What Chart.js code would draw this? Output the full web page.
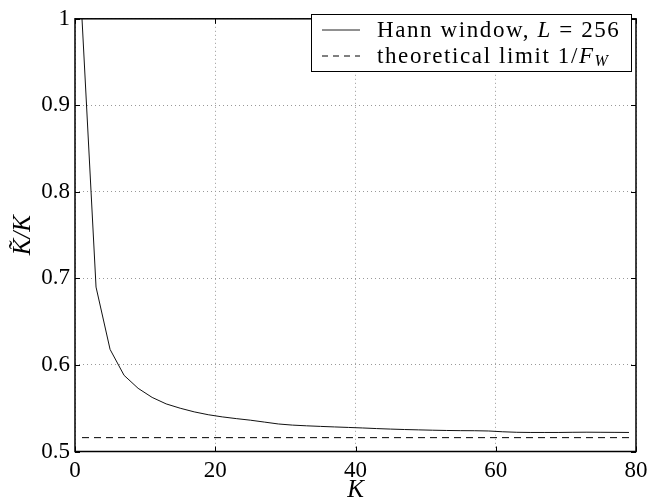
<!DOCTYPE html>
<html>
<head>
<meta charset="utf-8">
<script src="https://cdn.jsdelivr.net/npm/chart.js@4/dist/chart.umd.min.js"></script>
<style>
html,body{margin:0;padding:0;background:#fff;}
#wrap{width:672px;height:502px;}
</style>
</head>
<body>
<div id="wrap"><canvas id="c" width="672" height="502"></canvas></div>
<script>
// ---- data ----
const hannK = [1,3,5,7,9,11,13,15,17,19,21,23,25,27,29,31,33,35,37,39,41,43,45,47,49,51,53,55,57,59,61,63,65,67,69,71,73,75,77,79];
const hannVals = [1.000,0.690,0.618,0.588,0.573,0.5625,0.555,0.550,0.5458,0.5425,0.540,0.538,0.5362,0.534,0.5318,0.5305,0.5297,0.529,0.5284,0.5278,0.5272,0.5265,0.5259,0.5254,0.525,0.5246,0.5243,0.5241,0.524,0.5237,0.5228,0.5222,0.522,0.522,0.522,0.5222,0.5223,0.5222,0.5221,0.522];
const limitK = [1,79];
const limitVals = [0.516,0.516];
const xTicks = [0,20,40,60,80];
const yTicks = [0.5,0.6,0.7,0.8,0.9,1.0];
const yTickLabels = ['0.5','0.6','0.7','0.8','0.9','1'];

const SERIF = '"Liberation Serif", "DejaVu Serif", serif';

const framePlugin = {
  id: 'frame',
  afterDatasetsDraw(chart) {
    const ctx = chart.ctx, a = chart.chartArea;
    const xs = chart.scales.x, ys = chart.scales.y;
    ctx.save();
    ctx.strokeStyle = '#000';
    ctx.lineWidth = 1;
    ctx.beginPath();
    const tl = 5;
    xTicks.forEach(v => {
      const px = Math.round(xs.getPixelForValue(v)) + 0.5;
      ctx.moveTo(px, a.bottom); ctx.lineTo(px, a.bottom - tl);
      ctx.moveTo(px, a.top); ctx.lineTo(px, a.top + tl);
    });
    yTicks.forEach(v => {
      const py = Math.round(ys.getPixelForValue(v)) + 0.5;
      ctx.moveTo(a.left, py); ctx.lineTo(a.left + tl, py);
      ctx.moveTo(a.right, py); ctx.lineTo(a.right - tl, py);
    });
    ctx.stroke();
    ctx.lineWidth = 1.5;
    ctx.strokeRect(a.left, a.top, a.right - a.left, a.bottom - a.top);

    // legend
    const bx = 311, by = 14, bw = a.right - 5 - bx, bh = 57;
    ctx.fillStyle = '#fff';
    ctx.fillRect(bx, by, bw, bh);
    ctx.lineWidth = 1;
    ctx.strokeStyle = '#000';
    ctx.strokeRect(bx + 0.5, by + 0.5, bw, bh);
    const rows = [by + 17, by + 43];
    // samples
    ctx.beginPath();
    ctx.strokeStyle = '#222';
    ctx.moveTo(322, rows[0] - 1); ctx.lineTo(360, rows[0] - 1);
    ctx.stroke();
    ctx.beginPath();
    ctx.strokeStyle = '#000';
    ctx.setLineDash([6, 5]);
    ctx.moveTo(322, rows[1] - 1); ctx.lineTo(360, rows[1] - 1);
    ctx.stroke();
    ctx.setLineDash([]);
    ctx.fillStyle = '#000';
    ctx.textBaseline = 'middle';
    ctx.textAlign = 'left';
    try { ctx.letterSpacing = '1.6px'; } catch (e) {}
    const reg = '23px ' + SERIF, ita = 'italic 23px ' + SERIF, sub = 'italic 16px ' + SERIF;
    function seq(x, y, parts) {
      parts.forEach(p => {
        ctx.font = p[1];
        ctx.fillText(p[0], x, y + (p[2] || 0));
        x += ctx.measureText(p[0]).width;
      });
    }
    seq(377, rows[0], [['Hann window, ', reg], ['L', ita], [' = 256', reg]]);
    seq(377, rows[1], [['theoretical limit 1/', reg], ['F', ita], ['W', sub, 5]]);
    ctx.restore();
  }
};

new Chart(document.getElementById('c'), {
  type: 'line',
  data: {
    datasets: [
      { label: 'Hann window, L = 256', data: hannK.map((k, i) => ({x: k, y: hannVals[i]})),
        borderColor: '#111', borderWidth: 1, pointRadius: 0, tension: 0, fill: false },
      { label: 'theoretical limit 1/F_W', data: limitK.map((k, i) => ({x: k, y: limitVals[i]})),
        borderColor: '#000', borderWidth: 1, borderDash: [7, 5], pointRadius: 0, tension: 0, fill: false }
    ]
  },
  options: {
    responsive: false,
    animation: false,
    devicePixelRatio: 1,
    layout: { padding: { left: 0, right: 36, top: 8, bottom: 0 } },
    plugins: { legend: { display: false }, tooltip: { enabled: false } },
    scales: {
      x: {
        type: 'linear', min: 0, max: 80,
        afterBuildTicks: s => { s.ticks = xTicks.map(v => ({value: v})); },
        afterFit: s => { s.height = 50.5; },
        grid: { color: '#999', lineWidth: 1, drawTicks: false },
        border: { display: false, dash: [1, 3] },
        ticks: { color: '#000', font: { family: SERIF, size: 23 }, padding: 6, maxRotation: 0 },
        title: { display: true, text: 'K', color: '#000', font: { family: SERIF, size: 25, style: 'italic' }, padding: { top: 0, bottom: -3 } }
      },
      y: {
        type: 'linear', min: 0.5, max: 1.0,
        afterBuildTicks: s => { s.ticks = yTicks.map(v => ({value: v})); },
        afterFit: s => { s.width = 75; },
        grid: { color: '#999', lineWidth: 1, drawTicks: false },
        border: { display: false, dash: [1, 3] },
        ticks: { color: '#000', font: { family: SERIF, size: 23 }, padding: 5,
          callback: (v, i) => yTickLabels[yTicks.findIndex(t => Math.abs(t - v) < 1e-9)] },
        title: { display: true, text: 'K\u0303/K', color: '#000', font: { family: SERIF, size: 25, style: 'italic' }, padding: { top: 8, bottom: 0 } }
      }
    }
  },
  plugins: [framePlugin]
});
</script>
</body>
</html>
